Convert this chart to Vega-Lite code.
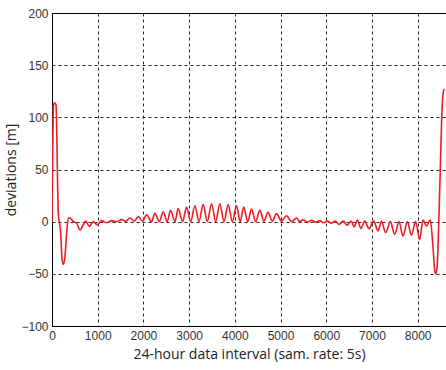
{
  "$schema": "https://vega.github.io/schema/vega-lite/v6.json",
  "autosize": "none",
  "width": 394,
  "height": 313,
  "padding": {"left": 52, "top": 13, "right": 0, "bottom": 44},
  "background": "white",
  "config": {
    "view": {"stroke": "#000", "strokeWidth": 1},
    "axis": {
      "grid": true,
      "gridColor": "#000",
      "gridDash": [3, 3],
      "gridWidth": 1,
      "gridOpacity": 0.85,
      "domainColor": "#000",
      "domainWidth": 1,
      "ticks": false,
      "labelFont": "Liberation Sans",
      "labelFontSize": 12,
      "labelColor": "#333",
      "titleFont": "Open Sans",
      "titleFontSize": 14,
      "titleFontWeight": "normal",
      "titleColor": "#222"
    }
  },
  "data": {
    "values": [
      {"x": 0, "y": 0}, {"x": 15, "y": 60}, {"x": 30, "y": 111}, {"x": 55, "y": 114}, {"x": 87, "y": 112},
      {"x": 138, "y": 8}, {"x": 190, "y": -11}, {"x": 219, "y": -36}, {"x": 247, "y": -41}, {"x": 284, "y": -33},
      {"x": 321, "y": -11}, {"x": 357, "y": 3.5}, {"x": 393, "y": 3.5}, {"x": 467, "y": 0}, {"x": 539, "y": -1.5},
      {"x": 612, "y": -8}, {"x": 685, "y": -3}, {"x": 735, "y": 0.5}, {"x": 816, "y": -4.5}, {"x": 904, "y": 0},
      {"x": 991, "y": -3}, {"x": 1085, "y": 1}, {"x": 1195, "y": -1}, {"x": 1304, "y": 1}, {"x": 1414, "y": 0},
      {"x": 1523, "y": 2}, {"x": 1617, "y": 0.5}, {"x": 1705, "y": 3.5}, {"x": 1800, "y": 0.5}, {"x": 1887, "y": 5},
      {"x": 1982, "y": 0.5}, {"x": 2070, "y": 6.5}, {"x": 2179, "y": 0}, {"x": 2251, "y": 8}, {"x": 2346, "y": 0},
      {"x": 2433, "y": 9.5}, {"x": 2521, "y": 0}, {"x": 2594, "y": 11}, {"x": 2689, "y": 0}, {"x": 2761, "y": 12.5},
      {"x": 2857, "y": 0}, {"x": 2944, "y": 14}, {"x": 3035, "y": 0}, {"x": 3126, "y": 15.3}, {"x": 3216, "y": 0},
      {"x": 3307, "y": 16.3}, {"x": 3398, "y": 0}, {"x": 3490, "y": 17.2}, {"x": 3581, "y": 0}, {"x": 3672, "y": 17.2},
      {"x": 3763, "y": 0}, {"x": 3854, "y": 16.3}, {"x": 3945, "y": 0}, {"x": 4037, "y": 15.3}, {"x": 4116, "y": 0},
      {"x": 4196, "y": 14}, {"x": 4280, "y": 0}, {"x": 4365, "y": 12}, {"x": 4455, "y": 0}, {"x": 4546, "y": 10.8},
      {"x": 4637, "y": 0.5}, {"x": 4728, "y": 8.9}, {"x": 4820, "y": 0.5}, {"x": 4911, "y": 7.7}, {"x": 5020, "y": 0.5},
      {"x": 5130, "y": 5.7}, {"x": 5240, "y": 0}, {"x": 5349, "y": 3.5}, {"x": 5420, "y": 0}, {"x": 5493, "y": 1.9},
      {"x": 5585, "y": -0.3}, {"x": 5676, "y": 1.3}, {"x": 5767, "y": -0.5}, {"x": 5858, "y": 1.0}, {"x": 5940, "y": -1.0},
      {"x": 6020, "y": 0.5}, {"x": 6110, "y": -1.5}, {"x": 6195, "y": 0.5}, {"x": 6280, "y": -2.5}, {"x": 6370, "y": 0.5},
      {"x": 6455, "y": -3.5}, {"x": 6545, "y": 0.5}, {"x": 6610, "y": -5}, {"x": 6680, "y": 1.5}, {"x": 6760, "y": -6.5},
      {"x": 6842, "y": 0.6}, {"x": 6936, "y": -6.7}, {"x": 7038, "y": 0.5}, {"x": 7133, "y": -8.9}, {"x": 7206, "y": 0.3},
      {"x": 7301, "y": -10.5}, {"x": 7403, "y": 0}, {"x": 7497, "y": -12.1}, {"x": 7592, "y": 0}, {"x": 7679, "y": -13.7},
      {"x": 7775, "y": 0}, {"x": 7862, "y": -13}, {"x": 7956, "y": 0}, {"x": 8044, "y": -17}, {"x": 8117, "y": 1.5},
      {"x": 8190, "y": -4}, {"x": 8277, "y": 1.6}, {"x": 8335, "y": -24}, {"x": 8372, "y": -46}, {"x": 8393, "y": -50},
      {"x": 8422, "y": -45}, {"x": 8444, "y": -26}, {"x": 8466, "y": 6}, {"x": 8495, "y": 50}, {"x": 8525, "y": 98},
      {"x": 8568, "y": 126}, {"x": 8585, "y": 127}
    ]
  },
  "mark": {"type": "line", "color": "#ee1c25", "strokeWidth": 1.6, "interpolate": "monotone", "clip": true},
  "encoding": {
    "x": {
      "field": "x", "type": "quantitative",
      "scale": {"domain": [0, 8620], "nice": false, "zero": false},
      "axis": {"values": [0, 1000, 2000, 3000, 4000, 5000, 6000, 7000, 8000], "format": "d", "labelPadding": 4, "titlePadding": 6, "labelFlush": false, "labelOverlap": false},
      "title": "24-hour data interval (sam. rate: 5s)"
    },
    "y": {
      "field": "y", "type": "quantitative",
      "scale": {"domain": [-100, 200], "nice": false, "zero": false},
      "axis": {"values": [-100, -50, 0, 50, 100, 150, 200], "format": "d", "labelPadding": 4, "titlePadding": 2, "labelFlush": false, "labelOverlap": false},
      "title": "deviations [m]"
    }
  }
}
